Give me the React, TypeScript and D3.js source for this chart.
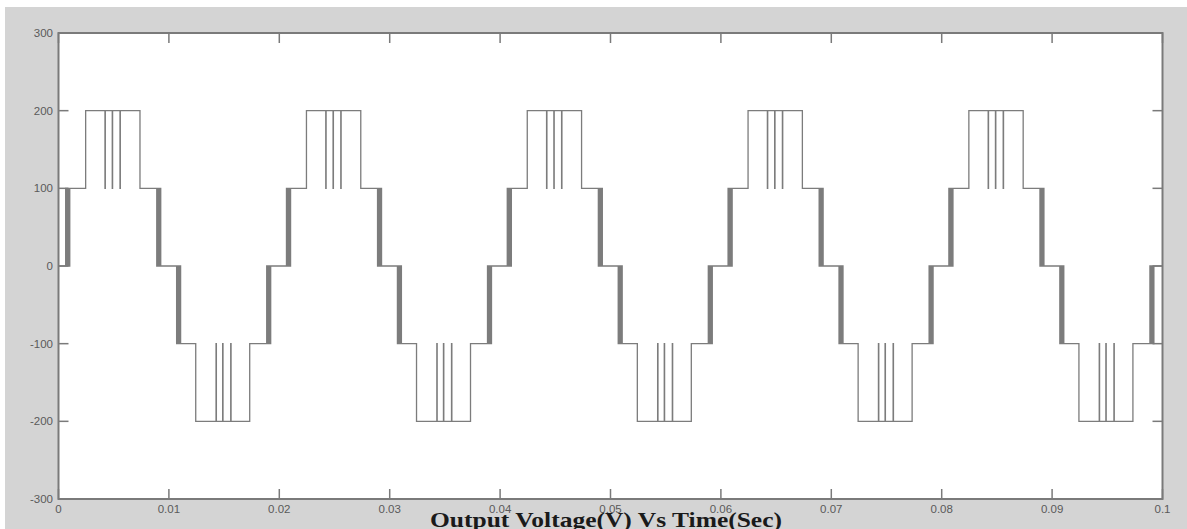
import React from "react";
import * as d3 from "d3";

// One measured cycle of the stepped inverter voltage: [time (ms) from cycle start, level (V) after that time]
const cycleEdges: [number, number][] = [
  [0, 0],
  [0.65, 100], [0.71, 0], [0.77, 100], [0.83, 0], [0.89, 100], [0.95, 0], [1.02, 100],
  [2.46, 200],
  [4.21, 100], [4.24, 200],
  [4.87, 100], [4.9, 200],
  [5.57, 100], [5.6, 200],
  [7.38, 100],
  [8.9, 0], [8.96, 100], [9.02, 0], [9.08, 100], [9.14, 0], [9.2, 100], [9.26, 0],
  [10.7, -100], [10.76, 0], [10.82, -100], [10.88, 0], [10.94, -100], [11.0, 0], [11.06, -100],
  [12.43, -200],
  [14.27, -100], [14.3, -200],
  [14.87, -100], [14.9, -200],
  [15.6, -100], [15.63, -200],
  [17.32, -100],
  [18.86, 0], [18.92, -100], [18.98, 0], [19.04, -100], [19.1, 0], [19.16, -100], [19.22, 0],
];
const cycleStarts = [0, 20, 40, 60, 80]; // ms
const endPoint: [number, number] = [100, 0];

const xTicks = [0, 0.01, 0.02, 0.03, 0.04, 0.05, 0.06, 0.07, 0.08, 0.09, 0.1];
const xTickLabels = ["0", "0.01", "0.02", "0.03", "0.04", "0.05", "0.06", "0.07", "0.08", "0.09", "0.1"];
const yTicks = [-300, -200, -100, 0, 100, 200, 300];
const yTickLabels = ["-300", "-200", "-100", "0", "100", "200", "300"];
const title = "Output Voltage(V) Vs Time(Sec)";

const W = 1187;
const H = 529;
const left = 58.5;
const right = 1162.5;
const top = 33;
const bottom = 499;

export default function App() {
  const x = d3.scaleLinear().domain([0, 0.1]).range([left, right]);
  const y = d3.scaleLinear().domain([-300, 300]).range([bottom, top]);

  const pts: [number, number][] = [];
  cycleStarts.forEach((c) => {
    cycleEdges.forEach(([t, v]) => pts.push([(c + t) / 1000, v]));
  });
  pts.push([endPoint[0] / 1000, endPoint[1]]);

  const line = d3
    .line<[number, number]>()
    .x((d) => x(d[0]))
    .y((d) => y(d[1]))
    .curve(d3.curveStepAfter);

  const axisColor = "#7a7a7a";
  const tickLen = 10;

  return (
    <svg
      width={W}
      height={H}
      style={{ position: "absolute", left: 0, top: 0, background: "#ffffff" }}
    >
      <rect x={5} y={7} width={W - 5} height={H - 7} fill="#d4d4d4" />
      <rect x={left} y={top} width={right - left} height={bottom - top} fill="#ffffff" />

      <path d={line(pts) || ""} fill="none" stroke="#7c7c7c" strokeWidth={1.3} />

      {xTicks.map((t, i) => (
        <g key={"xt" + i}>
          <line x1={x(t)} x2={x(t)} y1={bottom} y2={bottom - tickLen} stroke={axisColor} strokeWidth={1.5} />
          <line x1={x(t)} x2={x(t)} y1={top} y2={top + tickLen} stroke={axisColor} strokeWidth={1.5} />
          <text
            x={x(t)}
            y={513}
            textAnchor="middle"
            fontFamily="Liberation Sans, Arial, sans-serif"
            fontSize={11.5}
            fill="#5a5a5a"
          >
            {xTickLabels[i]}
          </text>
        </g>
      ))}
      {yTicks.map((v, i) => (
        <g key={"yt" + i}>
          <line x1={left} x2={left + tickLen} y1={y(v)} y2={y(v)} stroke={axisColor} strokeWidth={1.5} />
          <line x1={right} x2={right - tickLen} y1={y(v)} y2={y(v)} stroke={axisColor} strokeWidth={1.5} />
          <text
            x={53}
            y={y(v)}
            dy="0.35em"
            textAnchor="end"
            fontFamily="Liberation Sans, Arial, sans-serif"
            fontSize={11.5}
            fill="#5a5a5a"
          >
            {yTickLabels[i]}
          </text>
        </g>
      ))}

      <rect
        x={left}
        y={top}
        width={right - left}
        height={bottom - top}
        fill="none"
        stroke={axisColor}
        strokeWidth={2}
      />

      <text
        x={606}
        y={527}
        textAnchor="middle"
        fontFamily="Liberation Serif, Times New Roman, serif"
        fontWeight="bold"
        fontSize={21}
        textLength={352}
        lengthAdjust="spacingAndGlyphs"
        fill="#1a1a1a"
      >
        {title}
      </text>
    </svg>
  );
}
